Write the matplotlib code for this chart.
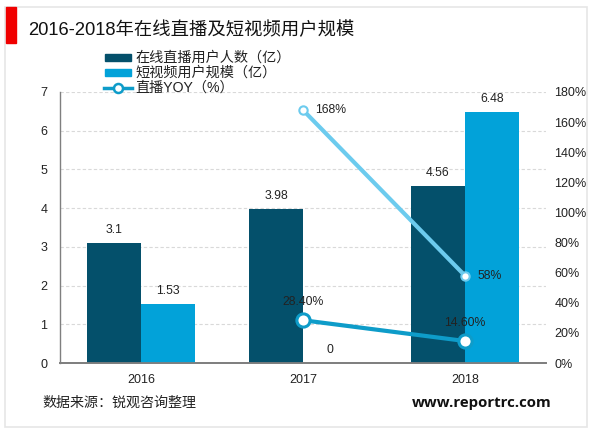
import matplotlib
matplotlib.use('Agg')
import matplotlib.pyplot as plt
from matplotlib.patches import Rectangle
from matplotlib.lines import Line2D

plt.rcParams['font.family'] = ['Liberation Sans', 'Noto Sans CJK SC', 'DejaVu Sans']

years = ['2016', '2017', '2018']
live_users = [3.1, 3.98, 4.56]
short_video = [1.53, 0, 6.48]
live_yoy = [None, 28.4, 14.6]
short_yoy = [None, 168, 58]
live_labels = ['3.1', '3.98', '4.56']
short_labels = ['1.53', '0', '6.48']
legend_labels = ['在线直播用户人数（亿）', '短视频用户规模（亿）', '直播YOY（%）']
title = '2016-2018年在线直播及短视频用户规模'
source = '数据来源：锐观咨询整理'
site = 'www.reportrc.com'

W, H = 600, 433
DARK, BLUE, LIGHT = '#04506B', '#02A2D9', '#6CCBEE'
LINE = '#0E9CC9'
TXT = '#222222'

fig = plt.figure(figsize=(W/100, H/100), dpi=100, facecolor='white')
L, R, T, B = 60, 546, 92, 363
ax = fig.add_axes([L/W, 1-B/H, (R-L)/W, (B-T)/H])
ax2 = ax.twinx()
x = range(3)
w = 1/3
ax.bar([i-w/2 for i in x], live_users, w, color=DARK, zorder=3)
ax.bar([i+w/2 for i in x], short_video, w, color=BLUE, zorder=3)
ax.set_xlim(-0.5, 2.5)
ax.set_ylim(0, 7)
ax2.set_ylim(0, 180)
ax.set_xticks(list(x), years, fontsize=9, color=TXT)
ax.set_yticks(range(8))
ax2.set_yticks(range(0, 181, 20), [f'{v}%' for v in range(0, 181, 20)])
ax.tick_params(axis='y', length=0, labelsize=9, labelcolor=TXT, pad=9)
ax.tick_params(axis='x', length=0, pad=8)
ax2.tick_params(axis='y', length=0, labelsize=9, labelcolor=TXT, pad=6)
ax.grid(axis='y', color='#D9D9D9', ls=(0, (3, 2)), lw=0.8, zorder=0)
ax.set_axisbelow(True)
for a in (ax, ax2):
    for s in ('top', 'right'):
        a.spines[s].set_visible(False)
    a.spines['left'].set_visible(False)
    a.spines['bottom'].set_color('#7F7F7F')
    a.spines['bottom'].set_linewidth(1.3)
ax.spines['left'].set_visible(True)
ax.spines['left'].set_color('#7F7F7F')
ax.spines['left'].set_linewidth(1.0)

ax2.plot([1, 2], short_yoy[1:], color=LIGHT, lw=3, marker='o', ms=6, mfc='white', mec=LIGHT, mew=1.5, zorder=5)
ax2.plot([1, 2], live_yoy[1:], color=LINE, lw=3, marker='o', ms=9.5, mfc='white', mec=LINE, mew=2.2, zorder=5)

LBL = 8.8
def bar_label(xv, yv, text):
    ax.annotate(text, (xv, yv), xytext=(0, 9.5), textcoords='offset points',
                ha='center', va='center', fontsize=LBL, color=TXT, zorder=6)

for i in x:
    bar_label(i-w/2, live_users[i], live_labels[i])
    bar_label(i+w/2, short_video[i], short_labels[i])
ax2.annotate('168%', (1, short_yoy[1]), xytext=(9, 0), textcoords='offset points', va='center', fontsize=LBL, color=TXT, zorder=7)
ax2.annotate('58%', (2, short_yoy[2]), xytext=(9, 0), textcoords='offset points', va='center', fontsize=LBL, color=TXT, zorder=7)
ax2.annotate('28.40%', (1, live_yoy[1]), xytext=(0, 13), textcoords='offset points', ha='center', va='center', fontsize=LBL, color=TXT, zorder=7)
ax2.annotate('14.60%', (2, live_yoy[2]), xytext=(0, 13), textcoords='offset points', ha='center', va='center', fontsize=LBL, color=TXT, zorder=7)

def px(xp, yp):
    return xp/W, 1-yp/H

fig.add_artist(Rectangle(px(5, 427), 582/W, 420/H, fill=False, ec='#E6E6E6', lw=1.2, transform=fig.transFigure))
fig.add_artist(Rectangle(px(6, 43), 10/W, 36/H, color='#F00000', transform=fig.transFigure))
fig.text(*px(28, 30), title, fontsize=13.2, color='#111111', va='center', ha='left')

for yp, c, lab in zip((57.5, 72.5), (DARK, BLUE), legend_labels[:2]):
    fig.add_artist(Rectangle(px(105, yp+3), 26/W, 6/H, color=c, transform=fig.transFigure))
    fig.text(*px(135, yp), lab, fontsize=10.2, color=TXT, va='center')
fig.add_artist(Line2D([104/W, 132/W], [1-88/H]*2, color=LINE, lw=2.5, transform=fig.transFigure))
fig.add_artist(Line2D([118/W], [1-88/H], color=LINE, marker='o', ms=6.5, mfc='white', mec=LINE, mew=1.8,
                      transform=fig.transFigure))
fig.text(*px(135, 88), legend_labels[2], fontsize=10.2, color=TXT, va='center')

fig.text(*px(42, 403), source, fontsize=10.1, color=TXT, va='center')
fig.text(*px(412, 403), site, fontsize=10.8, color='#111111', va='center', fontweight='bold', family='Open Sans')
fig.savefig('out.png', dpi=100)
